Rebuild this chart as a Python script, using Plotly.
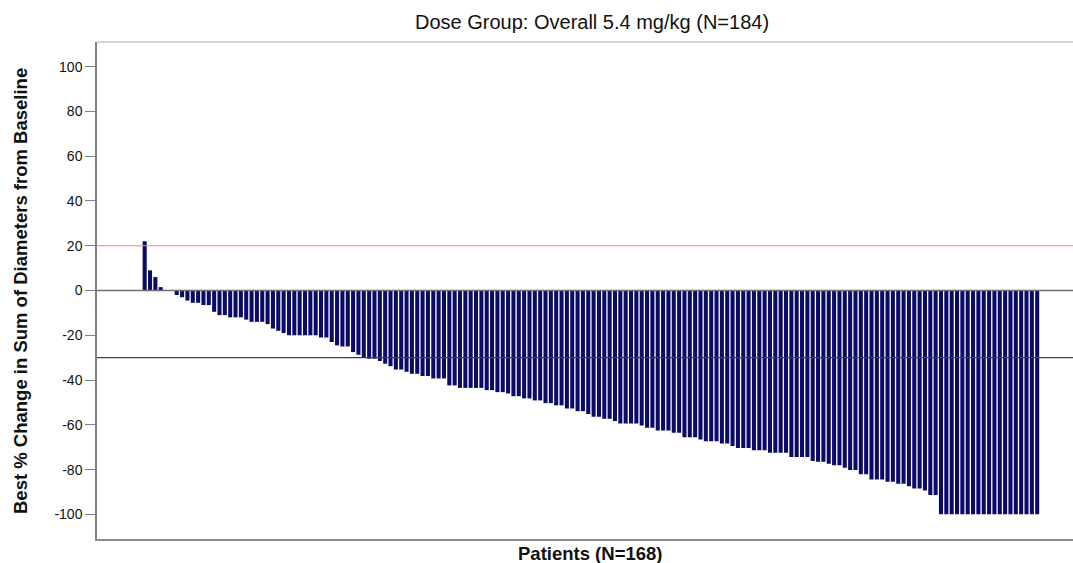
import plotly.graph_objects as go

# Best percent change from baseline per patient, sorted descending
best_change = [
    22, 9, 6, 1.5, 0, 0,
    -2, -3, -4.5, -5.5, -5.5, -6.5, -6.5, -9.5, -11, -11,
    -12, -12, -12, -13, -14, -14, -14, -15, -17, -18,
    -19, -20, -20, -20, -20, -20, -20, -21, -21, -23,
    -24.5, -25, -25, -27.5, -28.7, -30, -30.5, -30.5, -31.5, -32.7,
    -33.8, -35.3, -35.3, -36.3, -37.2, -37.2, -38.2, -38.2, -39.3, -39.3,
    -39.3, -42.4, -42.4, -43.5, -43.5, -43.5, -43.5, -43.5, -44.5, -44.5,
    -45.4, -45.4, -46, -47.2, -47.2, -48.2, -48.2, -49.1, -49.1, -50.3,
    -50.3, -51.3, -51.3, -52.7, -52.7, -53.9, -53.9, -55.2, -56.4, -56.4,
    -57.3, -57.3, -58.3, -59.4, -59.4, -59.4, -59.4, -60.3, -61.3, -61.3,
    -62.5, -62.5, -62.5, -63.5, -63.5, -65.5, -65.5, -65.5, -66.5, -67.3,
    -67.3, -67.3, -68.3, -68.3, -69.5, -70.4, -70.4, -70.4, -71.4, -71.4,
    -71.4, -72.5, -72.5, -72.5, -72.5, -74.4, -74.4, -74.4, -74.4, -76.2,
    -76.5, -76.5, -77.4, -78.1, -78.1, -79.2, -80.2, -80.2, -82.1, -82.1,
    -84.4, -84.4, -84.4, -85.4, -85.4, -86.3, -86.3, -87.4, -88.4, -88.4,
    -89.3, -91.4, -91.4,
    -100, -100, -100, -100, -100, -100, -100, -100, -100, -100,
    -100, -100, -100, -100, -100, -100, -100, -100, -100,
]
patients = list(range(1, len(best_change) + 1))

y_ticks = [100, 80, 60, 40, 20, 0, -20, -40, -60, -80, -100]
pd_threshold = 20     # progressive disease
pr_threshold = -30    # partial response

FONT = "Liberation Sans, Arial, sans-serif"

fig = go.Figure()
fig.add_trace(go.Bar(
    x=patients,
    y=best_change,
    marker=dict(color="#0b0b66", line=dict(width=0)),
    hoverinfo="y",
))

fig.add_hline(y=pd_threshold, line=dict(color="#ff7b7b", width=1.2))
fig.add_hline(y=0, line=dict(color="#707070", width=1.3))
fig.add_hline(y=pr_threshold, line=dict(color="#404040", width=1.2))

# top frame edge
fig.add_shape(type="line", xref="paper", yref="paper", x0=0, x1=1, y0=1, y1=1,
              line=dict(color="#c8c8c8", width=1.5))

fig.update_layout(
    width=1073,
    height=563,
    margin=dict(l=97, r=0, t=42, b=24),
    paper_bgcolor="white",
    plot_bgcolor="white",
    bargap=0.24,
    showlegend=False,
    font=dict(family=FONT, size=14, color="#111111"),
    xaxis=dict(
        range=[-7.92, 174.7],
        showticklabels=False,
        ticks="",
        showgrid=False,
        zeroline=False,
        showline=True,
        linecolor="#8a8a8a",
        linewidth=1.5,
        mirror=False,
    ),
    yaxis=dict(
        range=[-111, 111],
        tickvals=y_ticks,
        ticktext=[str(v) for v in y_ticks],
        ticks="outside",
        ticklen=10,
        tickcolor="#808080",
        tickfont=dict(size=14, family=FONT, color="#111111"),
        showgrid=False,
        zeroline=False,
        showline=True,
        linecolor="#808080",
        linewidth=1.5,
        mirror=False,
    ),
    annotations=[
        dict(text="Dose Group: Overall 5.4 mg/kg (N=184)", x=592, y=22,
             showarrow=False,
             font=dict(size=20, family=FONT, color="#111111")),
        dict(text="<b>Patients (N=168)</b>", x=590, y=553,
             showarrow=False, font=dict(size=18.5, family=FONT, color="#111111")),
        dict(text="<b>Best % Change in Sum of Diameters from Baseline</b>",
             x=20, y=291, textangle=-90, showarrow=False,
             font=dict(size=18.5, family=FONT, color="#111111")),
    ],
)

# place titles in pixel coordinates of the page
W, H = 1073, 563
pl, pr, pt, pb = 97, 0, 42, 24
pw, ph = W - pl - pr, H - pt - pb
for ann in fig.layout.annotations:
    px, py = ann.x, ann.y
    ann.xref = "paper"
    ann.yref = "paper"
    ann.x = (px - pl) / pw
    ann.y = (H - pb - py) / ph
    ann.xanchor = "center"
    ann.yanchor = "middle"

fig.write_html("out.html")
